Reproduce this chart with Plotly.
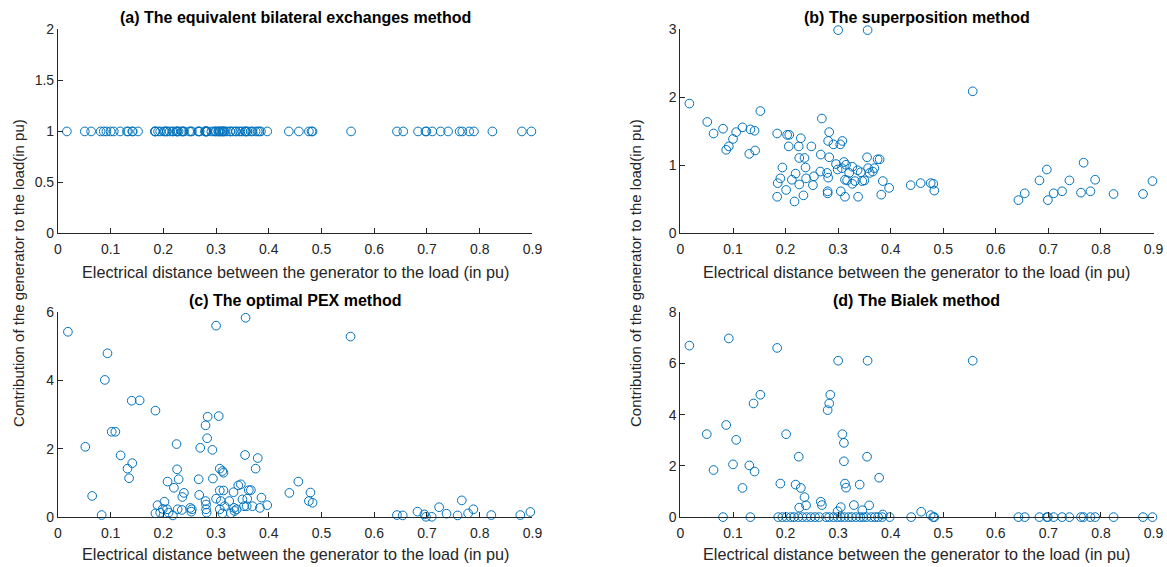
import plotly.graph_objects as go

# Electrical distance of each generator-load pair (pu), shared by panels (a) and (b)
distance = [
    0.017, 0.051, 0.063, 0.081, 0.087, 0.092, 0.100, 0.106, 0.118, 0.131,
    0.133, 0.141, 0.142, 0.152, 0.184, 0.184, 0.185, 0.190, 0.194, 0.201,
    0.203, 0.207, 0.206, 0.212, 0.217, 0.219, 0.225, 0.226, 0.229, 0.226,
    0.234, 0.236, 0.238, 0.239, 0.249, 0.252, 0.254, 0.267, 0.269, 0.266,
    0.279, 0.280, 0.280, 0.283, 0.281, 0.283, 0.281, 0.291, 0.296, 0.299,
    0.300, 0.304, 0.308, 0.305, 0.307, 0.311, 0.313, 0.313, 0.315, 0.317,
    0.321, 0.327, 0.327, 0.332, 0.338, 0.337, 0.343, 0.346, 0.350, 0.355,
    0.356, 0.357, 0.360, 0.366, 0.369, 0.375, 0.379, 0.382, 0.385, 0.397,
    0.438, 0.457, 0.476, 0.481, 0.483, 0.556, 0.643, 0.655, 0.683, 0.697,
    0.699, 0.710, 0.726, 0.740, 0.762, 0.767, 0.780, 0.789, 0.824, 0.880,
    0.898,
]

# (a) equivalent bilateral exchanges: every pair gets the same share
ebe_share = [
    1.0, 1.0, 1.0, 1.0, 1.0, 1.0, 1.0, 1.0, 1.0, 1.0,
    1.0, 1.0, 1.0, 1.0, 1.0, 1.0, 1.0, 1.0, 1.0, 1.0,
    1.0, 1.0, 1.0, 1.0, 1.0, 1.0, 1.0, 1.0, 1.0, 1.0,
    1.0, 1.0, 1.0, 1.0, 1.0, 1.0, 1.0, 1.0, 1.0, 1.0,
    1.0, 1.0, 1.0, 1.0, 1.0, 1.0, 1.0, 1.0, 1.0, 1.0,
    1.0, 1.0, 1.0, 1.0, 1.0, 1.0, 1.0, 1.0, 1.0, 1.0,
    1.0, 1.0, 1.0, 1.0, 1.0, 1.0, 1.0, 1.0, 1.0, 1.0,
    1.0, 1.0, 1.0, 1.0, 1.0, 1.0, 1.0, 1.0, 1.0, 1.0,
    1.0, 1.0, 1.0, 1.0, 1.0, 1.0, 1.0, 1.0, 1.0, 1.0,
    1.0, 1.0, 1.0, 1.0, 1.0, 1.0, 1.0, 1.0, 1.0, 1.0,
    1.0,
]

# (b) superposition method
superposition_share = [
    1.91, 1.64, 1.47, 1.54, 1.23, 1.28, 1.39, 1.49, 1.56, 1.17,
    1.53, 1.51, 1.22, 1.80, 1.47, 0.54, 0.74, 0.81, 0.97, 0.64,
    1.45, 1.45, 1.28, 0.79, 0.47, 0.88, 1.28, 0.72, 1.40, 1.11,
    0.56, 1.11, 0.97, 0.81, 1.28, 0.71, 0.84, 1.16, 1.69, 0.91,
    0.89, 0.62, 0.59, 1.49, 1.36, 1.12, 0.82, 1.31, 1.02, 0.94,
    2.99, 1.31, 1.36, 0.62, 0.96, 1.05, 0.54, 0.79, 1.01, 0.78,
    0.89, 0.98, 0.73, 0.77, 0.54, 0.93, 0.90, 0.77, 0.78, 1.12,
    2.99, 0.96, 0.89, 0.91, 0.96, 1.09, 1.09, 0.57, 0.77, 0.67,
    0.71, 0.74, 0.74, 0.73, 0.63, 2.09, 0.49, 0.59, 0.78, 0.94,
    0.49, 0.59, 0.62, 0.78, 0.60, 1.04, 0.62, 0.79, 0.58, 0.58,
    0.77,
]

# (c) optimal PEX method
pex_distance = [
    0.019, 0.052, 0.065, 0.083, 0.089, 0.094, 0.102, 0.109, 0.119, 0.132,
    0.135, 0.141, 0.140, 0.155, 0.185, 0.185, 0.189, 0.194, 0.202, 0.199,
    0.207, 0.208, 0.210, 0.218, 0.220, 0.225, 0.226, 0.229, 0.227, 0.236,
    0.239, 0.235, 0.251, 0.254, 0.253, 0.267, 0.268, 0.270, 0.280, 0.284,
    0.283, 0.280, 0.281, 0.281, 0.282, 0.293, 0.294, 0.300, 0.300, 0.305,
    0.307, 0.312, 0.314, 0.307, 0.309, 0.307, 0.314, 0.312, 0.316, 0.325,
    0.328, 0.333, 0.334, 0.335, 0.339, 0.342, 0.347, 0.350, 0.353, 0.356,
    0.355, 0.359, 0.362, 0.366, 0.358, 0.369, 0.375, 0.379, 0.383, 0.386,
    0.397, 0.439, 0.456, 0.479, 0.476, 0.483, 0.555, 0.643, 0.654, 0.682,
    0.695, 0.698, 0.709, 0.723, 0.737, 0.758, 0.766, 0.778, 0.788, 0.822,
    0.877, 0.896,
]
pex_share = [
    5.43, 2.06, 0.62, 0.06, 4.02, 4.80, 2.50, 2.50, 1.81, 1.42,
    1.14, 1.58, 3.41, 3.42, 3.12, 0.11, 0.35, 0.13, 0.45, 0.24,
    0.23, 1.04, 0.13, 0.05, 0.86, 2.14, 1.40, 1.11, 0.23, 0.59,
    0.71, 0.21, 0.27, 0.23, 0.16, 1.11, 0.65, 2.03, 2.69, 2.94,
    2.31, 0.47, 0.37, 0.23, 0.13, 1.97, 1.13, 5.61, 0.54, 2.96,
    1.42, 1.35, 1.30, 0.78, 0.47, 0.23, 0.78, 0.11, 0.32, 0.47,
    0.11, 0.73, 0.27, 0.18, 0.23, 0.93, 0.96, 0.52, 0.32, 5.84,
    1.82, 0.54, 0.79, 0.79, 0.32, 0.32, 1.42, 1.73, 0.27, 0.57,
    0.35, 0.71, 1.04, 0.72, 0.47, 0.42, 5.29, 0.06, 0.05, 0.16,
    0.08, 0.01, 0.01, 0.29, 0.10, 0.05, 0.49, 0.11, 0.23, 0.06,
    0.06, 0.15,
]

# (d) Bialek method
bialek_distance = [
    0.017, 0.050, 0.063, 0.081, 0.087, 0.092, 0.100, 0.106, 0.118, 0.131,
    0.133, 0.139, 0.141, 0.152, 0.184, 0.190, 0.201, 0.219, 0.225, 0.229,
    0.226, 0.236, 0.239, 0.267, 0.269, 0.280, 0.283, 0.285, 0.300, 0.299,
    0.305, 0.308, 0.311, 0.311, 0.313, 0.315, 0.330, 0.341, 0.346, 0.355,
    0.356, 0.359, 0.378, 0.385, 0.186, 0.194, 0.2015, 0.210, 0.216, 0.224,
    0.232, 0.240, 0.248, 0.256, 0.264, 0.277, 0.283, 0.291, 0.299, 0.305,
    0.312, 0.320, 0.326, 0.334, 0.342, 0.348, 0.354, 0.363, 0.370, 0.376,
    0.384, 0.398, 0.439, 0.458, 0.476, 0.481, 0.483, 0.556, 0.643, 0.655,
    0.683, 0.697, 0.699, 0.710, 0.726, 0.740, 0.762, 0.767, 0.780, 0.789,
    0.824, 0.880, 0.898,
]
bialek_share = [
    6.70, 3.24, 1.84, 0.00, 3.60, 6.98, 2.06, 3.02, 1.14, 2.02,
    0.00, 4.44, 1.78, 4.78, 6.61, 1.31, 3.24, 1.27, 2.36, 1.14,
    0.37, 0.78, 0.46, 0.60, 0.47, 4.18, 4.44, 4.78, 6.11, 0.23,
    0.39, 3.24, 2.90, 2.18, 1.31, 1.15, 0.47, 1.27, 0.27, 2.36,
    6.11, 0.46, 1.54, 0.10, 0.00, 0.00, 0.00, 0.00, 0.00, 0.00,
    0.00, 0.00, 0.00, 0.00, 0.00, 0.00, 0.00, 0.00, 0.00, 0.00,
    0.00, 0.00, 0.00, 0.00, 0.00, 0.00, 0.00, 0.00, 0.00, 0.00,
    0.00, 0.00, 0.00, 0.21, 0.08, 0.00, 0.00, 6.11, 0.00, 0.00,
    0.00, 0.00, 0.00, 0.00, 0.00, 0.00, 0.00, 0.00, 0.00, 0.00,
    0.00, 0.00, 0.00,
]

x_ticks = [0, 0.1, 0.2, 0.3, 0.4, 0.5, 0.6, 0.7, 0.8, 0.9]
x_tick_text = ["0", "0.1", "0.2", "0.3", "0.4", "0.5", "0.6", "0.7", "0.8", "0.9"]

panel_titles = [
    "(a) The equivalent bilateral exchanges method",
    "(b) The superposition method",
    "(c) The optimal PEX method",
    "(d) The Bialek method",
]
x_label = "Electrical distance between the generator to the load (in pu)"
y_label = "Contribution of the generator to the load(in pu)"

# figure canvas and the mapping from page pixels to canvas pixels
W, H = 1176, 578
OFF_X, SCALE_X = 2.6, 0.988
OFF_Y, SCALE_Y = 8.1, 0.970
MARKER_BLUE = "#0072BD"
AXIS_GREY = "#262626"
FONT = "Liberation Sans, Arial, Helvetica, sans-serif"

# page-pixel boxes of the four axes: (left, right, top, bottom)
boxes = [
    (56.5, 531, 29.5, 233),
    (679, 1152, 29.5, 233),
    (56.5, 531, 311.7, 516),
    (679, 1152, 311.7, 516),
]
# vertical page position of each panel's x-axis label
x_label_rows = [271, 271, 552.5, 552.5]
y_ranges = [[0, 2], [0, 3], [0, 6], [0, 8]]
y_ticks = [
    ([0, 0.5, 1, 1.5, 2], ["0", "0.5", "1", "1.5", "2"]),
    ([0, 1, 2, 3], ["0", "1", "2", "3"]),
    ([0, 2, 4, 6], ["0", "2", "4", "6"]),
    ([0, 2, 4, 6, 8], ["0", "2", "4", "6", "8"]),
]
series = [
    (distance, ebe_share),
    (distance, superposition_share),
    (pex_distance, pex_share),
    (bialek_distance, bialek_share),
]


def px_x(p):
    return (p - OFF_X) / SCALE_X / W


def px_y(p):
    return 1 - (p - OFF_Y) / SCALE_Y / H


fig = go.Figure()
layout = {}
annotations = []

for i, ((xs, ys), (l, r, t, b)) in enumerate(zip(series, boxes)):
    n = "" if i == 0 else str(i + 1)
    fig.add_trace(go.Scatter(
        x=xs, y=ys, mode="markers",
        xaxis="x" + n, yaxis="y" + n,
        marker=dict(symbol="circle-open", size=8.7, color=MARKER_BLUE,
                    line=dict(width=1, color=MARKER_BLUE)),
        cliponaxis=False, showlegend=False, hoverinfo="x+y",
    ))
    common = dict(
        showline=True, linecolor=AXIS_GREY, linewidth=1, mirror=False,
        ticks="inside", ticklen=5, tickwidth=1, tickcolor=AXIS_GREY,
        showgrid=False, zeroline=False,
        tickfont=dict(family=FONT, size=14, color=AXIS_GREY),
    )
    layout["xaxis" + n] = dict(
        common, domain=[px_x(l), px_x(r)], range=[0, 0.9], anchor="y" + n,
        tickvals=x_ticks, ticktext=x_tick_text, ticklabelstandoff=3,
    )
    tv, tt = y_ticks[i]
    layout["yaxis" + n] = dict(
        common, domain=[px_y(b), px_y(t)], range=y_ranges[i], anchor="x" + n,
        tickvals=tv, ticktext=tt,
    )
    cx = px_x((l + r) / 2)
    annotations.append(dict(
        text="<b>" + panel_titles[i] + "</b>", x=cx, y=px_y(t - 11.5),
        xref="paper", yref="paper", xanchor="center", yanchor="middle",
        showarrow=False, font=dict(family=FONT, size=16, color="#000000"),
    ))
    annotations.append(dict(
        text=x_label, x=cx, y=px_y(x_label_rows[i]),
        xref="paper", yref="paper", xanchor="center", yanchor="middle",
        showarrow=False, font=dict(family=FONT, size=16.2, color=AXIS_GREY),
    ))

for x_page in (17, 634):
    annotations.append(dict(
        text=y_label, x=px_x(x_page), y=px_y(272), textangle=-90,
        xref="paper", yref="paper", xanchor="center", yanchor="middle",
        showarrow=False, font=dict(family=FONT, size=15, color=AXIS_GREY),
    ))

fig.update_layout(
    width=W, height=H,
    margin=dict(l=0, r=0, t=0, b=0),
    paper_bgcolor="white", plot_bgcolor="white",
    annotations=annotations,
    **layout,
)

fig.write_html("out.html")
